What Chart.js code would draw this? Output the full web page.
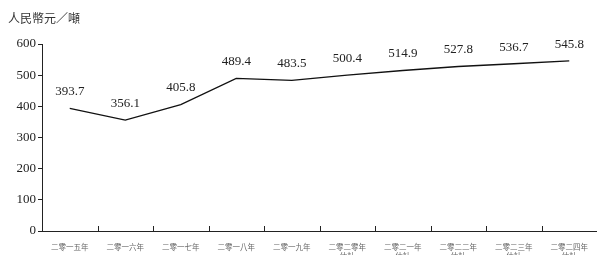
<!DOCTYPE html>
<html>
<head>
<meta charset="utf-8">
<script src="https://cdn.jsdelivr.net/npm/chart.js@4"></script>
<style>
  html, body { margin: 0; padding: 0; background: #fff; }
  #wrap { position: relative; width: 597px; height: 255px; }
  #unit { position: absolute; left: 8px; top: 9px; font: 12px "Noto Sans CJK TC", sans-serif; color: #333; }
</style>
</head>
<body>
<div id="wrap">
  <div id="unit">人民幣元／噸</div>
  <canvas id="price" width="597" height="255"></canvas>
</div>
<script>
// categories (years); estimates get a second line
var years = [
    "二零一五年", "二零一六年", "二零一七年", "二零一八年", "二零一九年",
    ["二零二零年", "估計"], ["二零二一年", "估計"], ["二零二二年", "估計"],
    ["二零二三年", "估計"], ["二零二四年", "估計"]
];
var prices = [393.7, 356.1, 405.8, 489.4, 483.5, 500.4, 514.9, 527.8, 536.7, 545.8];
var yTicks = [0, 100, 200, 300, 400, 500, 600];

var serif = '"Liberation Serif", "DejaVu Serif", serif';

// value labels above each point
var valueLabels = {
    id: 'valueLabels',
    afterDatasetsDraw: function(chart) {
        var ctx = chart.ctx;
        var meta = chart.getDatasetMeta(0);
        ctx.save();
        ctx.font = '13px ' + serif;
        ctx.fillStyle = '#222';
        ctx.textAlign = 'center';
        ctx.textBaseline = 'bottom';
        meta.data.forEach(function(pt, i) {
            ctx.fillText(prices[i].toFixed(1), pt.x, pt.y - 10);
        });
        ctx.restore();
    }
};

// small tick marks between categories, pointing up from the x axis
var xTickMarks = {
    id: 'xTickMarks',
    afterDraw: function(chart) {
        var ctx = chart.ctx;
        var xs = chart.scales.x;
        var y0 = chart.chartArea.bottom;
        var half = (xs.getPixelForValue(1) - xs.getPixelForValue(0)) / 2;
        ctx.save();
        ctx.strokeStyle = '#222';
        ctx.lineWidth = 1;
        ctx.beginPath();
        for (var i = 1; i <= years.length; i++) {
            var x = Math.round(xs.getPixelForValue(i) - half) + 0.5;
            ctx.moveTo(x, y0);
            ctx.lineTo(x, y0 - 5);
        }
        ctx.stroke();
        ctx.restore();
    }
};

new Chart(document.getElementById('price'), {
    type: 'line',
    data: {
        labels: years,
        datasets: [{
            data: prices,
            borderColor: '#111',
            borderWidth: 1.3,
            pointRadius: 0,
            tension: 0,
            fill: false
        }]
    },
    options: {
        responsive: false,
        animation: false,
        layout: { padding: { top: 44, right: 0, left: 0, bottom: 0 } },
        plugins: { legend: { display: false }, tooltip: { enabled: false } },
        scales: {
            x: {
                offset: true,
                grid: { display: false, offset: true },
                border: { display: true, color: '#222', width: 1 },
                ticks: {
                    autoSkip: false,
                    maxRotation: 0,
                    padding: 4,
                    color: '#666',
                    font: { family: '"Noto Sans CJK TC", sans-serif', size: 7.5, lineHeight: 1.2 }
                },
                afterFit: function(s) { s.height = 24; }
            },
            y: {
                min: 0,
                max: 600,
                afterBuildTicks: function(s) { s.ticks = yTicks.map(function(v) { return { value: v }; }); },
                grid: { drawOnChartArea: false, tickLength: 4, color: '#222' },
                border: { display: true, color: '#222', width: 1 },
                ticks: {
                    autoSkip: false,
                    padding: 2,
                    color: '#222',
                    font: { family: serif, size: 13 }
                },
                afterFit: function(s) { s.width = 42; }
            }
        }
    },
    plugins: [valueLabels, xTickMarks]
});
</script>
</body>
</html>
